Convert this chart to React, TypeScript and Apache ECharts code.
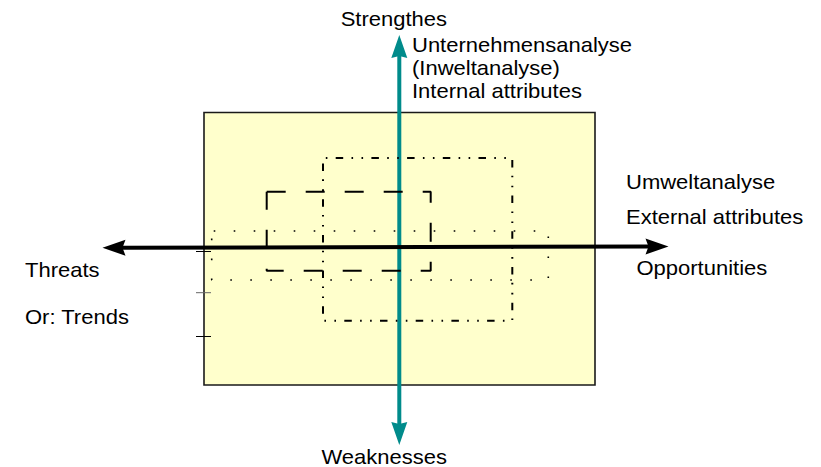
import React, { useEffect, useRef } from "react";
import * as echarts from "echarts";

// Canvas-sized value space (x to the right, y downward)
const SPACE_W = 821;
const SPACE_H = 467;

// Boxes: [x1, y1, x2, y2]
const panelBox = [204, 112.5, 595, 385];
const dottedBox = [211.7, 231, 548.3, 280];
const dashedBox = [266.7, 191.7, 430.7, 270.7];
const dashDotBox = [323, 158, 512.3, 320.7];

// Small ticks on the panel's left border: [x1, x2, y]
const leftTicks = [
  [196, 211, 251.5],
  [196, 211, 292.7],
  [196, 211, 336.5],
];

// Double-headed arrows: [xStart, yStart, xEnd, yEnd] (tip to tip)
const verticalArrow = [[399.3, 35, 399.3, 445]];
const horizontalArrow = [[102.5, 247.8, 668.5, 246.4]];

// Labels
const topLabel = "Strengthes";
const internalLines = ["Unternehmensanalyse", "(Inweltanalyse)", "Internal attributes"];
const externalLines = ["Umweltanalyse", "External attributes"];
const rightLabel = "Opportunities";
const leftLines = ["Threats", "Or: Trends"];
const bottomLabel = "Weaknesses";

const boxPath = (b: number[]) => [
  [b[0], b[1]],
  [b[2], b[1]],
  [b[2], b[3]],
  [b[0], b[3]],
  [b[0], b[1]],
];

const FONT = '"Liberation Sans", Arial, Helvetica, sans-serif';

const arrowRender = (color: string, lw: number, headLen: number, halfW: number, notch: number) =>
  (params: any, api: any) => {
    const p1 = api.coord([api.value(0), api.value(1)]);
    const p2 = api.coord([api.value(2), api.value(3)]);
    const dx = p2[0] - p1[0];
    const dy = p2[1] - p1[1];
    const len = Math.sqrt(dx * dx + dy * dy);
    const ux = dx / len;
    const uy = dy / len;
    const nx = -uy;
    const ny = ux;
    const head = (tip: number[], dir: number) => {
      const bx = tip[0] - dir * ux * headLen;
      const by = tip[1] - dir * uy * headLen;
      const mx = tip[0] - dir * ux * (headLen - notch);
      const my = tip[1] - dir * uy * (headLen - notch);
      return {
        type: "polygon",
        shape: {
          points: [
            tip,
            [bx + nx * halfW, by + ny * halfW],
            [mx, my],
            [bx - nx * halfW, by - ny * halfW],
          ],
        },
        style: { fill: color },
      };
    };
    const s = [p1[0] + ux * (headLen - notch - 1), p1[1] + uy * (headLen - notch - 1)];
    const e = [p2[0] - ux * (headLen - notch - 1), p2[1] - uy * (headLen - notch - 1)];
    return {
      type: "group",
      children: [
        {
          type: "line",
          shape: { x1: s[0], y1: s[1], x2: e[0], y2: e[1] },
          style: { stroke: color, lineWidth: lw },
        },
        head(p1, -1),
        head(p2, 1),
      ],
    };
  };

const textEl = (text: string, x: number, y: number, align: string = "left") => ({
  type: "text",
  x,
  y,
  scaleX: 1.1,
  z: 100,
  silent: true,
  style: {
    text,
    fill: "#000",
    fontSize: 20,
    fontFamily: FONT,
    align,
    verticalAlign: "middle",
  },
});

export default function App() {
  const ref = useRef<HTMLDivElement>(null);

  useEffect(() => {
    if (!ref.current) return;
    const chart = echarts.init(ref.current, undefined, { renderer: "svg" });

    const graphics: any[] = [
      textEl(topLabel, 447, 19, "right"),
      ...internalLines.map((t, i) => textEl(t, 412, 44.5 + i * 23, "left")),
      textEl(externalLines[0], 626, 182),
      textEl(externalLines[1], 626, 217),
      textEl(rightLabel, 636.5, 268),
      textEl(leftLines[0], 25, 270.3),
      textEl(leftLines[1], 25, 316.7),
      textEl(bottomLabel, 447, 457, "right"),
    ];

    chart.setOption({
      animation: false,
      backgroundColor: "#ffffff",
      grid: { left: 0, right: 0, top: 0, bottom: 0 },
      xAxis: { type: "value", min: 0, max: SPACE_W, show: false },
      yAxis: { type: "value", min: 0, max: SPACE_H, inverse: true, show: false },
      graphic: graphics,
      series: [
        {
          type: "custom",
          name: "panel",
          clip: false,
          silent: true,
          data: [panelBox],
          encode: { x: [0, 2], y: [1, 3] },
          renderItem: (params: any, api: any) => {
            const a = api.coord([api.value(0), api.value(1)]);
            const b = api.coord([api.value(2), api.value(3)]);
            return {
              type: "rect",
              shape: { x: a[0], y: a[1], width: b[0] - a[0], height: b[1] - a[1] },
              style: { fill: "#FFFFCC", stroke: "#1a1a1a", lineWidth: 1.6 },
            };
          },
        },
        {
          type: "line",
          name: "dotted",
          silent: true,
          symbol: "none",
          clip: false,
          data: boxPath(dottedBox),
          lineStyle: { color: "#000", width: 1.6, type: [1.6, 18.4], dashOffset: 18 },
        },
        {
          type: "line",
          name: "dashed",
          silent: true,
          symbol: "none",
          clip: false,
          data: boxPath(dashedBox),
          lineStyle: { color: "#000", width: 2, type: [19, 20], dashOffset: 0 },
        },
        {
          type: "line",
          name: "dashdot",
          silent: true,
          symbol: "none",
          clip: false,
          data: boxPath(dashDotBox),
          lineStyle: { color: "#000", width: 2, type: [7.5, 8.3, 1.6, 8.4, 1.6, 8.3], dashOffset: 22.7 },
        },
        {
          type: "custom",
          name: "ticks",
          clip: false,
          silent: true,
          data: leftTicks,
          encode: { x: [0, 1], y: [2] },
          renderItem: (params: any, api: any) => {
            const a = api.coord([api.value(0), api.value(2)]);
            const b = api.coord([api.value(1), api.value(2)]);
            return {
              type: "line",
              shape: { x1: a[0], y1: a[1], x2: b[0], y2: b[1] },
              style: { stroke: params.dataIndex === 1 ? "#666" : "#000", lineWidth: 1 },
            };
          },
        },
        {
          type: "custom",
          name: "vertical",
          clip: false,
          silent: true,
          data: verticalArrow,
          encode: { x: [0, 2], y: [1, 3] },
          renderItem: arrowRender("#008B8B", 4, 23, 8, 2),
        },
        {
          type: "custom",
          name: "horizontal",
          clip: false,
          silent: true,
          data: horizontalArrow,
          encode: { x: [0, 2], y: [1, 3] },
          renderItem: arrowRender("#000000", 4, 23, 8, 3),
        },
      ],
    });

    return () => chart.dispose();
  }, []);

  return (
    <div
      ref={ref}
      style={{ position: "fixed", left: 0, top: 0, width: 821, height: 467, background: "#fff" }}
    />
  );
}
